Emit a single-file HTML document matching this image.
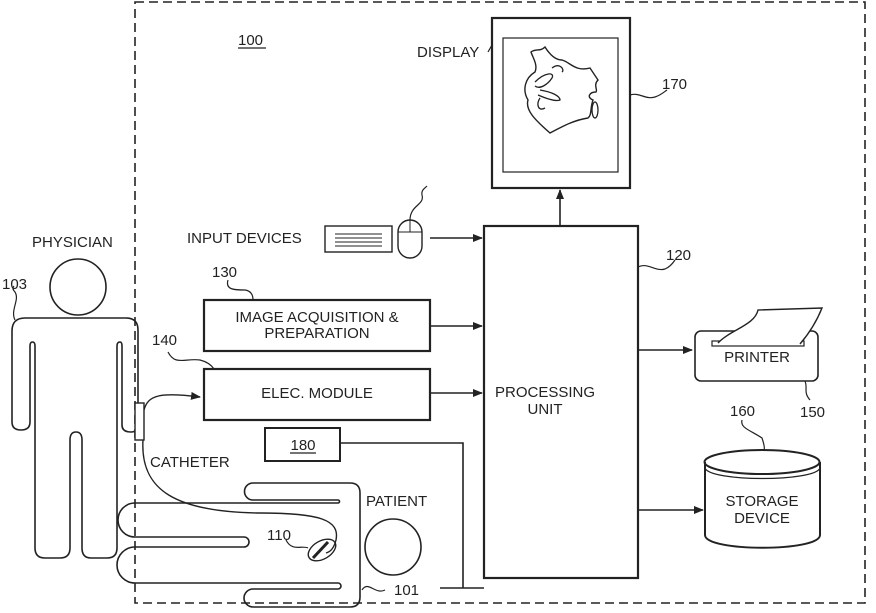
<!DOCTYPE html>
<html><head><meta charset="utf-8"><style>
html,body{margin:0;padding:0;background:#fff}
svg{display:block}
text{font-family:"Liberation Sans",Arial,sans-serif;font-size:15px;fill:#222}
</style></head><body>
<svg width="876" height="613" viewBox="0 0 876 613" xmlns="http://www.w3.org/2000/svg">
<defs>
<marker id="ar" markerWidth="10" markerHeight="8" refX="9" refY="4" orient="auto" markerUnits="userSpaceOnUse">
<path d="M0,0 L10,4 L0,8 Z" fill="#222"/></marker>
</defs>
<g fill="none" stroke="#222" stroke-width="1.6">
<rect x="135" y="2" width="730" height="601" stroke-dasharray="9,5" stroke-width="1.6"/>
<rect x="492" y="18" width="138" height="170" stroke-width="2.2"/>
<rect x="503" y="38" width="115" height="134" stroke-width="1.2"/>
<path d="M531,52 C536,48 540,52 545,47 C550,55 556,60 562,60 C570,62 575,72 590,68 L598,80 C593,85 598,90 596,92 C590,92 586,97 593,100 C590,108 592,115 588,118 C575,120 565,125 550,133 C535,120 525,110 528,100 C522,90 525,78 535,72 C538,65 533,58 531,52 Z" stroke-width="1.4"/>
<path d="M535,82 C545,72 555,72 552,78 C548,84 540,90 535,86" stroke-width="1.3"/>
<path d="M540,90 C552,92 560,96 560,100 C555,102 545,98 538,95" stroke-width="1.3"/>
<path d="M540,98 C536,104 538,112 545,108" stroke-width="1.3"/>
<path d="M552,68 C560,62 565,70 562,72" stroke-width="1.3"/>
<ellipse cx="595" cy="110" rx="3" ry="8" stroke-width="1.3"/>
<path d="M630,95 C640,92 645,100 655,97 C661,95 664,92 667,90" stroke-width="1.2"/>
<path d="M488,52 L492,45" stroke-width="1.2"/>
<line x1="560" y1="226" x2="560" y2="190" marker-end="url(#ar)"/>
<rect x="484" y="226" width="154" height="352" stroke-width="2.2"/>
<path d="M638,267 C648,262 655,272 665,269 C670,267 673,263 675,260" stroke-width="1.2"/>
<line x1="638" y1="350" x2="692" y2="350" marker-end="url(#ar)"/>
<rect x="695" y="331" width="123" height="50" rx="6" stroke-width="1.6"/>
<rect x="712" y="341" width="92" height="5" stroke-width="1.2"/>
<path d="M718,343 C730,330 755,325 758,310 L822,308 C818,318 812,330 800,344" fill="#fff" stroke-width="1.4"/>
<path d="M805,381 C808,388 803,392 810,400" stroke-width="1.2"/>
<line x1="638" y1="510" x2="703" y2="510" marker-end="url(#ar)"/>
<path d="M705,462 V535 C705,552 820,552 820,535 V462" stroke-width="2"/>
<ellipse cx="762" cy="462" rx="57.5" ry="12" stroke-width="2"/>
<path d="M705,468 C710,482 815,482 820,468" stroke-width="1.2"/>
<path d="M742,420 C740,428 750,430 762,438 C764,444 765,448 764,450" stroke-width="1.2"/>
<rect x="325" y="226" width="67" height="26" stroke-width="1.4"/>
<line x1="335" y1="234" x2="382" y2="234" stroke-width="1"/>
<line x1="335" y1="238" x2="382" y2="238" stroke-width="1"/>
<line x1="335" y1="242" x2="382" y2="242" stroke-width="1"/>
<line x1="335" y1="246" x2="382" y2="246" stroke-width="1"/>
<rect x="398" y="220" width="24" height="38" rx="12" stroke-width="1.4"/>
<line x1="398" y1="232" x2="422" y2="232" stroke-width="1"/>
<line x1="410" y1="220" x2="410" y2="232" stroke-width="1"/>
<path d="M410,220 C410,205 425,205 422,195 C421,190 425,188 427,186" stroke-width="1.2"/>
<line x1="430" y1="238" x2="482" y2="238" marker-end="url(#ar)"/>
<rect x="204" y="300" width="226" height="51" stroke-width="2.2"/>
<line x1="430" y1="326" x2="482" y2="326" marker-end="url(#ar)"/>
<path d="M228,280 C225,290 235,290 245,290 C252,291 253,296 253,300" stroke-width="1.2"/>
<rect x="204" y="369" width="226" height="51" stroke-width="2.2"/>
<line x1="430" y1="393" x2="482" y2="393" marker-end="url(#ar)"/>
<path d="M168,352 C175,366 185,358 200,360 C208,362 212,366 214,369" stroke-width="1.2"/>
<rect x="265" y="428" width="75" height="33" stroke-width="2"/>
<path d="M340,443 H463 V588"/>
<line x1="440" y1="588" x2="484" y2="588"/>
<circle cx="78" cy="287" r="28"/>
<path d="M25,318 H126 Q138,318 138,330 V425 Q138,432 131,432 Q122,432 122,425 V346 Q122,342 120,342 Q117,342 117,346 V548 Q117,558 107,558 H91 Q82,558 82,548 V440 Q82,432 76,432 Q70,432 70,440 V548 Q70,558 60,558 H45 Q35,558 35,548 V346 Q35,342 32.5,342 Q30,342 30,346 V422 Q30,430 21,430 Q12,430 12,422 V331 Q12,318 25,318 Z"/>
<path d="M15,320 C10,310 20,300 15,292 C13,290 12,288 14,286" stroke-width="1.2"/>
<rect x="135" y="403" width="9" height="37" stroke-width="1.4" fill="#fff"/>
<path d="M144,410 C148,395 160,392 200,397" marker-end="url(#ar)" stroke-width="1.4"/>
<path d="M143,440 C140,490 175,512 260,513 C320,513 340,520 336,540 C334,548 330,552 326,553" stroke-width="1.4"/>
<path d="M350,483 H253 A8.5,8.5 0 0 0 253,500 H338 A1.5,1.5 0 0 1 338,503 H135 A17,17 0 0 0 135,537 H244 A5,5 0 0 1 244,547 H135 A18,18 0 0 0 135,583 H338 A1,1 0 0 1 338,589 H253 A9,9 0 0 0 253,607 H350 Q360,607 360,597 V493 Q360,483 350,483 Z"/>
<circle cx="393" cy="547" r="28"/>
<ellipse cx="322" cy="550" rx="15" ry="9" transform="rotate(-30 322 550)" stroke-width="1.4"/>
<line x1="313" y1="558" x2="328" y2="542" stroke-width="3"/>
<path d="M286,540 C292,552 302,545 308,548" stroke-width="1.2"/>
<path d="M362,590 C368,580 375,595 385,590" stroke-width="1.2"/>
<line x1="238" y1="48" x2="266" y2="48" stroke-width="1.2"/>
<line x1="290" y1="453" x2="316" y2="453" stroke-width="1.2"/>
</g>
<text x="238" y="45">100</text>
<text x="417" y="57">DISPLAY</text>
<text x="662" y="89">170</text>
<text x="666" y="260">120</text>
<text x="545" y="397" text-anchor="middle">PROCESSING</text>
<text x="545" y="414" text-anchor="middle">UNIT</text>
<text x="757" y="362" text-anchor="middle">PRINTER</text>
<text x="800" y="417">150</text>
<text x="730" y="416">160</text>
<text x="762" y="506" text-anchor="middle">STORAGE</text>
<text x="762" y="523" text-anchor="middle">DEVICE</text>
<text x="187" y="243">INPUT DEVICES</text>
<text x="212" y="277">130</text>
<text x="317" y="322" text-anchor="middle">IMAGE ACQUISITION &amp;</text>
<text x="317" y="338" text-anchor="middle">PREPARATION</text>
<text x="152" y="345">140</text>
<text x="317" y="398" text-anchor="middle">ELEC. MODULE</text>
<text x="303" y="450" text-anchor="middle">180</text>
<text x="32" y="247">PHYSICIAN</text>
<text x="2" y="289">103</text>
<text x="150" y="467">CATHETER</text>
<text x="366" y="506">PATIENT</text>
<text x="267" y="540">110</text>
<text x="394" y="595">101</text>
</svg>
</body></html>
